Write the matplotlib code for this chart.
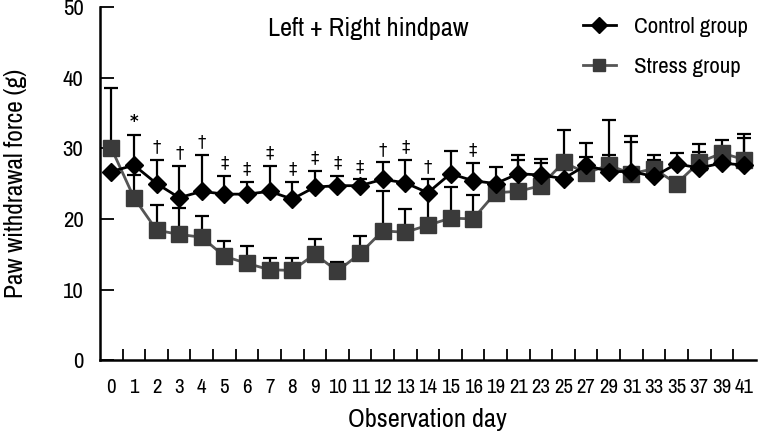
import matplotlib
matplotlib.use("Agg")
import matplotlib.pyplot as plt
import numpy as np
from matplotlib.ticker import FixedLocator

plt.rcParams['font.family'] = ['Archivo Narrow', 'DejaVu Sans']

days = ['0','1','2','3','4','5','6','7','8','9','10','11','12','13','14','15','16',
        '19','21','23','25','27','29','31','33','35','37','39','41']
control = [26.7, 27.6, 25.0, 23.0, 23.9, 23.5, 23.5, 23.9, 22.8, 24.5, 24.7, 24.7, 25.6, 25.1,
           23.7, 26.4, 25.4, 25.0, 26.4, 26.2, 25.7, 27.6, 26.7, 26.7, 26.0, 27.8, 27.2, 27.9, 27.6]
control_top = [26.7, 31.9, 28.4, 27.5, 29.1, 26.1, 25.2, 27.5, 25.2, 26.8, 26.1, 25.6, 28.0, 28.4,
               25.6, 29.6, 27.9, 27.4, 29.1, 28.5, 25.7, 30.8, 29.0, 30.9, 29.1, 29.3, 29.5, 31.2, 32.0]
stress = [30.0, 23.0, 18.4, 17.8, 17.4, 14.7, 13.7, 12.8, 12.7, 15.0, 12.6, 15.1, 18.3, 18.1,
          19.1, 20.1, 20.0, 23.7, 23.9, 24.7, 28.0, 26.5, 27.6, 26.4, 27.1, 25.0, 28.0, 29.3, 28.4]
stress_top = [38.5, 26.2, 22.0, 21.6, 20.4, 16.8, 16.1, 14.5, 14.4, 17.1, 13.9, 17.6, 23.9, 21.4,
              23.5, 24.5, 23.4, 23.7, 28.3, 27.9, 32.6, 28.8, 34.0, 31.8, 28.3, 25.0, 30.6, 29.3, 31.4]
marks = {1: '*', 2: '†', 3: '†', 4: '†', 5: '‡', 6: '‡', 7: '‡', 8: '‡', 9: '‡', 10: '‡',
         11: '‡', 12: '†', 13: '‡', 14: '†', 16: '‡'}

fig = plt.figure(figsize=(7.58, 4.36), dpi=100)
ax = fig.add_axes([0.132, 0.174, 0.865, 0.81])
x = np.arange(len(days))

c_err = np.array(control_top) - np.array(control)
s_err = np.array(stress_top) - np.array(stress)
ax.errorbar(x, stress, yerr=[np.zeros_like(s_err), s_err], fmt='none', ecolor='black',
            elinewidth=1.6, capsize=5, capthick=1.6, zorder=2)
ax.errorbar(x, control, yerr=[np.zeros_like(c_err), c_err], fmt='none', ecolor='black',
            elinewidth=1.6, capsize=5, capthick=1.6, zorder=2)
ax.plot(x, stress, color='#555555', lw=2, marker='s', ms=11, mfc='#3a3a3a', mec='#3a3a3a',
        label='Stress group', zorder=3)
ax.plot(x, control, color='black', lw=2, marker='D', ms=9, mfc='black', mec='black',
        label='Control group', zorder=4)

for i, m in marks.items():
    top = max(control_top[i], stress_top[i])
    ax.text(x[i], top + 0.5, m, ha='center', va='bottom', fontsize=12,
            family=['DejaVu Sans'], fontweight='bold' if m == '*' else 'normal')

ax.set_xlim(-0.5, len(days) - 0.5)
ax.set_ylim(0, 50)
ax.set_yticks([0, 10, 20, 30, 40, 50])
ax.set_xticks(x)
ax.set_xticklabels(days, fontsize=15)
ax.xaxis.set_minor_locator(FixedLocator(x[1:] - 0.5))
ax.tick_params(axis='x', which='major', length=0, pad=13)
ax.tick_params(axis='x', which='minor', direction='in', length=8, width=1.3)
ax.tick_params(axis='y', direction='in', length=10, width=1.3, labelsize=16.5, pad=12)
for s in ['top', 'right']:
    ax.spines[s].set_visible(False)
for s in ['left', 'bottom']:
    ax.spines[s].set_linewidth(1.8)
ax.set_xlabel('Observation day', fontsize=19, labelpad=8)
ax.set_ylabel('Paw withdrawal force (g)', fontsize=18.3, labelpad=26)
ax.text(0.409, 0.94, 'Left + Right hindpaw', transform=ax.transAxes, ha='center', va='center',
        fontsize=19)
handles, labels = ax.get_legend_handles_labels()
ax.legend(handles[::-1], labels[::-1], loc='upper right', frameon=False, fontsize=16.5,
          bbox_to_anchor=(1.02, 1.03), handlelength=1.45, handletextpad=0.8,
          labelspacing=0.85, markerscale=0.85)
fig.savefig('out.png', dpi=100)
